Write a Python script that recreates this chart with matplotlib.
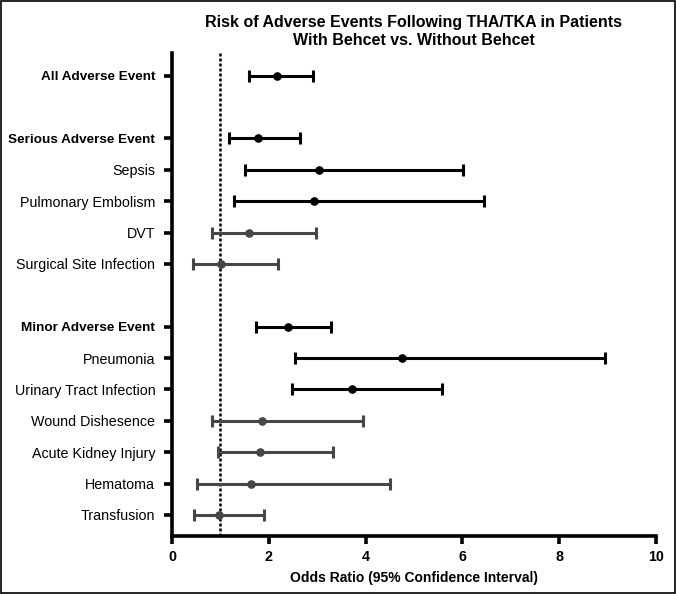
import numpy as np
import matplotlib.pyplot as plt
from matplotlib.patches import Rectangle

plt.rcParams['font.family'] = ['Liberation Sans', 'DejaVu Sans']

# rows from top to bottom, "" = empty spacer row
labels = ["All Adverse Event", "",
          "Serious Adverse Event", "Sepsis", "Pulmonary Embolism", "DVT",
          "Surgical Site Infection", "",
          "Minor Adverse Event", "Pneumonia", "Urinary Tract Infection",
          "Wound Dishesence", "Acute Kidney Injury", "Hematoma", "Transfusion"]
odds = [2.16, None, 1.77, 3.03, 2.93, 1.60, 1.02, None,
        2.39, 4.76, 3.71, 1.87, 1.81, 1.64, 0.98]
lower = [1.59, None, 1.18, 1.50, 1.28, 0.82, 0.43, None,
         1.74, 2.55, 2.47, 0.82, 0.95, 0.51, 0.45]
upper = [2.92, None, 2.64, 6.01, 6.45, 2.98, 2.19, None,
         3.28, 8.94, 5.58, 3.94, 3.33, 4.50, 1.91]
bold_rows = ["All Adverse Event", "Serious Adverse Event", "Minor Adverse Event"]

fig = plt.figure(figsize=(6.76, 5.94), dpi=100)
ax = fig.add_axes([0.2544, 0.0976, 0.716, 0.8132])

n = len(labels)
ypos = np.arange(n)[::-1]

for y, o, lo, hi in zip(ypos, odds, lower, upper):
    if o is None:
        continue
    col = "black" if lo > 1 else "#474747"
    ax.errorbar(o, y, xerr=[[o - lo], [hi - o]], fmt="o", color=col,
                ecolor=col, elinewidth=2.2, capsize=4.5, capthick=2.2,
                markersize=5.2, zorder=3)

ax.axvline(1, color="black", linestyle=(0, (1.2, 0.8)), linewidth=1.8, zorder=2)

tick_y = [y for y, l in zip(ypos, labels) if l]
tick_l = [l for l in labels if l]
ax.set_yticks(tick_y)
ax.set_yticklabels(tick_l, fontsize=10.3)
for t in ax.get_yticklabels():
    if t.get_text() in bold_rows:
        t.set_fontweight("bold")
        t.set_fontsize(9.7)

ax.set_xlim(0, 10)
ax.set_ylim(-0.67, n - 1 + 0.72)
ax.set_xticks([0, 2, 4, 6, 8, 10])
ax.set_xticklabels(["0", "2", "4", "6", "8", "10"], fontsize=10.3, fontweight="bold")
ax.set_xlabel("Odds Ratio (95% Confidence Interval)", fontsize=10, fontweight="bold", labelpad=5)

ax.spines["top"].set_visible(False)
ax.spines["right"].set_visible(False)
ax.spines["left"].set_linewidth(2.6)
ax.spines["bottom"].set_linewidth(2.6)
ax.tick_params(axis="y", length=6, width=2.6, pad=6)
ax.tick_params(axis="x", length=6, width=2.6, pad=4)

ax.set_title("Risk of Adverse Events Following THA/TKA in Patients\nWith Behcet vs. Without Behcet",
             fontsize=11.5, fontweight="bold", pad=6, linespacing=1.25)

fig.patches.append(Rectangle((0.001, 0.001), 0.997, 0.997, transform=fig.transFigure,
                             fill=False, edgecolor="black", linewidth=1.2))

plt.savefig("out.png", dpi=100)
